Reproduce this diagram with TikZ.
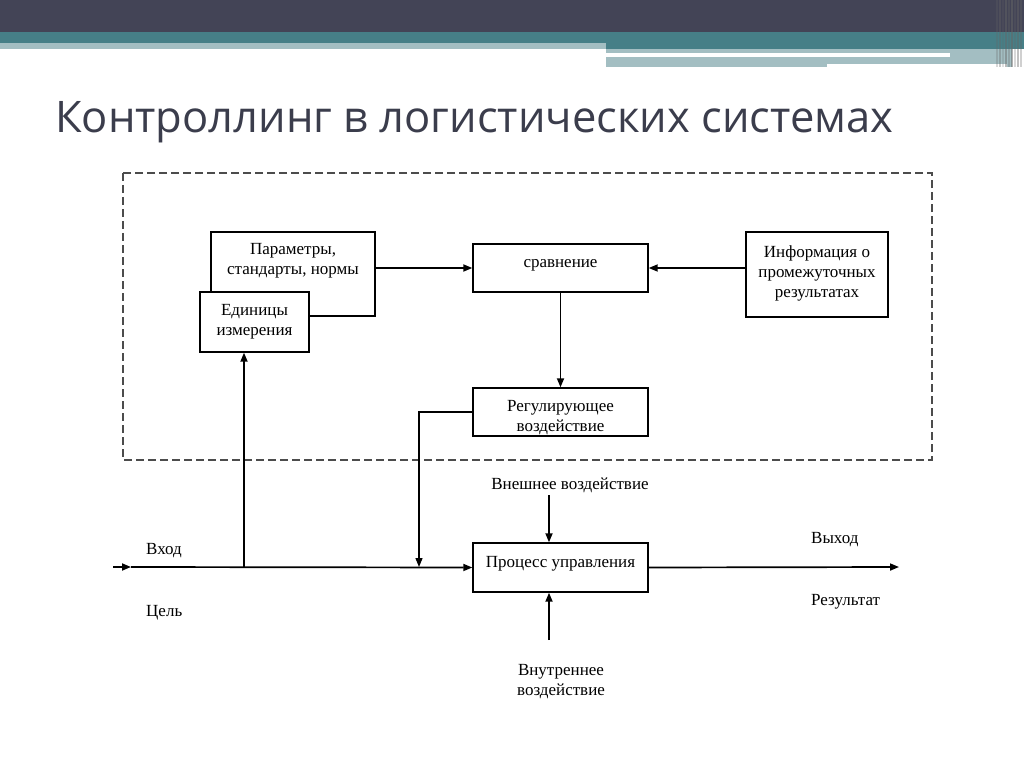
\documentclass[tikz,border=0pt]{standalone}
\usepackage{fontspec}
\setmainfont{Liberation Serif}
\newfontfamily\titlefont{Open Sans}
\usetikzlibrary{arrows.meta}
\definecolor{bandDark}{HTML}{434456}
\definecolor{bandTeal}{HTML}{467F87}
\definecolor{bandLight}{HTML}{A3BEC2}
\definecolor{titleCol}{HTML}{3B3D4C}
\tikzset{
  blk/.style={draw=black, line width=1.4pt, fill=white, inner sep=0pt},
  txt/.style={font=\fontsize{17}{20}\selectfont, align=center, inner sep=0pt, text=black},
  arr/.style={line width=1.7pt, -{Triangle[length=9pt,width=7pt]}},
}
\begin{document}
\begin{tikzpicture}[x=1pt,y=-1pt]
\useasboundingbox (0,0) rectangle (1024,767);
\fill[white] (0,0) rectangle (1024,767);
% banner
\fill[bandDark] (0,0) rectangle (1024,32);
\fill[bandTeal] (0,32) rectangle (1024,49);
\fill[bandLight] (0,43) rectangle (606,49);
\fill[bandLight] (606,49) rectangle (1012,67);
\fill[white] (606,53) rectangle (950,57);
\fill[white] (827,64) rectangle (1007,67);
\foreach \xx/\op in {996/0.25,999/0.35,1002/0.2,1005/0.45,1008/0.3,1011/0.5,1014/0.25,1017/0.4,1020/0.3}
  \fill[black!60, opacity=\op] (\xx,0) rectangle (\xx+1.5,67);
% title
\node[anchor=base west, inner sep=0pt, text=titleCol, font=\titlefont\fontsize{43.5}{50}\selectfont] (title) at (55,133) {Контроллинг в логистических системах};
% dashed frame
\draw[black!70, line width=1.4pt, dash pattern=on 8pt off 4pt] (123,173) rectangle (932,460);
% boxes
\node[blk, minimum width=164pt, minimum height=84pt] (params) at (293,274) {};
\node[txt] (paramsT) at (293,261) {Параметры,\\стандарты, нормы};
\node[blk, minimum width=109pt, minimum height=60pt] (units) at (254.5,322) {};
\node[txt] (unitsT) at (254.5,322) {Единицы\\измерения};
\node[blk, minimum width=175pt, minimum height=48pt] (cmp) at (560.5,268) {};
\node[txt] (cmpT) at (560.5,265) {сравнение};
\node[blk, minimum width=142pt, minimum height=85pt] (info) at (817,274.5) {};
\node[txt] (infoT) at (817,273) {Информация о\\промежуточных\\результатах};
\node[blk, minimum width=175pt, minimum height=48pt] (reg) at (560.5,412) {};
\node[txt] (regT) at (560.5,418) {Регулирующее\\воздействие};
\node[blk, minimum width=175pt, minimum height=49pt] (proc) at (560.5,567.5) {};
\node[txt] (procT) at (560.5,564) {Процесс управления};
% labels
\node[txt, anchor=west] (inL) at (146,551) {Вход};
\node[txt, anchor=west] (goalL) at (146,613) {Цель};
\node[txt, anchor=west] (outL) at (811,540) {Выход};
\node[txt, anchor=west] (resL) at (811,602) {Результат};
\node[txt] (extL) at (570,485) {Внешнее воздействие};
\node[txt] (intL) at (561,682) {Внутреннее\\воздействие};
% coordinates
\coordinate (start) at (113,567);
\coordinate (tip) at (131,567);
\coordinate (junc) at (244,567);
\coordinate (regCorner) at (419,412);
\coordinate (regDown) at (419,567);
\coordinate (outEnd) at (899,567);
\coordinate (extTop) at (549,495);
\coordinate (intBot) at (549,640);
% connectors
\draw[arr] (params.east |- cmp.west) -- (cmp.west);
\draw[arr] (info.west |- cmp.east) -- (cmp.east);
\draw[arr] (cmp.south) -- (reg.north);
\draw[arr, line width=1.3pt] (reg.west) -- (regCorner) -- (regDown);
\draw[arr] (start) -- (tip);
\draw[arr] (tip) -- (proc.west);
\draw[arr] (junc) -- (units.south -| junc);
\draw[arr] (proc.east) -- (outEnd);
\draw[arr] (extTop) -- (proc.north -| extTop);
\draw[arr] (intBot) -- (proc.south -| intBot);
\end{tikzpicture}
\end{document}
